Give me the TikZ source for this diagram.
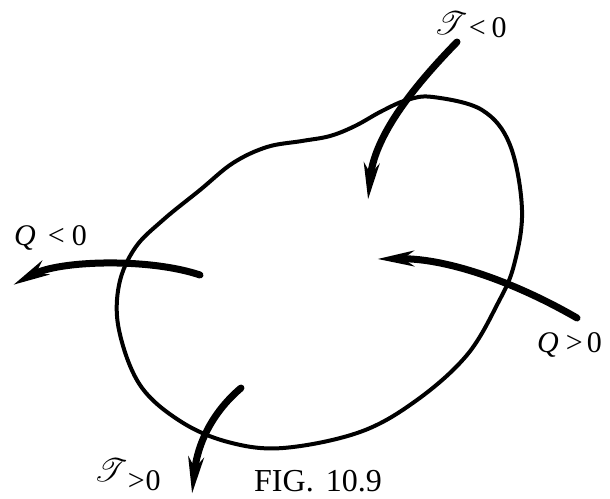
\documentclass[tikz,border=0pt]{standalone}
\usepackage{fontspec}
\setmainfont{Liberation Serif}
\usepackage{mathrsfs}
\usetikzlibrary{arrows.meta}
\tikzset{
  outline/.style={line width=4pt, line join=round},
  flow/.style={line width=7pt, line cap=round, -{Stealth[length=36pt,width=15pt,inset=10pt]}},
  lbl/.style={inner sep=0pt, anchor=base west, font=\fontsize{30pt}{36pt}\selectfont},
}
\newcommand{\calT}{\scalebox{1.3}{$\mathscr{T}$}}
\begin{document}
\begin{tikzpicture}[x=1pt,y=-1pt]
\useasboundingbox (0,0) rectangle (610,498);
% system boundary
\draw[outline] plot[smooth cycle, tension=0.6] coordinates {
 (433,97) (482,110) (510,145) (522,210) (514,265) (498,303) (467,355)
 (417,400) (360,432) (283,448) (228,442) (180,421) (140,385) (119,330)
 (119,285) (135,248) (163,220) (200,190) (233,163) (267,147)
 (302,141) (330,136) (355,126) (382,111) (407,100)};
% arrow end points
\coordinate (t1s) at (457,42);
\coordinate (t1e) at (368,200);
\coordinate (q1s) at (200,275);
\coordinate (q1e) at (13,285);
\coordinate (q2s) at (577,318);
\coordinate (q2e) at (377,259);
\coordinate (t2s) at (241,388);
\coordinate (t2e) at (192,494);
\draw[flow] (t1s) .. controls (425,75) and (375,130) .. (t1e);
\draw[flow] (q1s) .. controls (150,258) and (60,260) .. (q1e);
\draw[flow] (q2s) .. controls (520,285) and (450,258) .. (q2e);
\draw[flow] (t2s) .. controls (215,410) and (198,440) .. (t2e);
% labels
\node[lbl] (lt1) at (434,37) {\raisebox{3pt}{\calT}\hspace{1pt}<\hspace{6pt}0};
\node[lbl] (lq1) at (14,245) {\itshape Q\upshape\hspace{12pt}<\hspace{7pt}0};
\node[lbl] (lq2) at (537,352) {\itshape Q\upshape\hspace{7pt}>\hspace{4pt}0};
\node[lbl] (lt2) at (94,490) {\raisebox{9pt}{\calT}\hspace{0pt}>\hspace{1pt}0};
\node[lbl, font=\fontsize{32pt}{36pt}\selectfont] (fig) at (254,491) {FIG.\hspace{12pt}10.9};
\end{tikzpicture}
\end{document}
